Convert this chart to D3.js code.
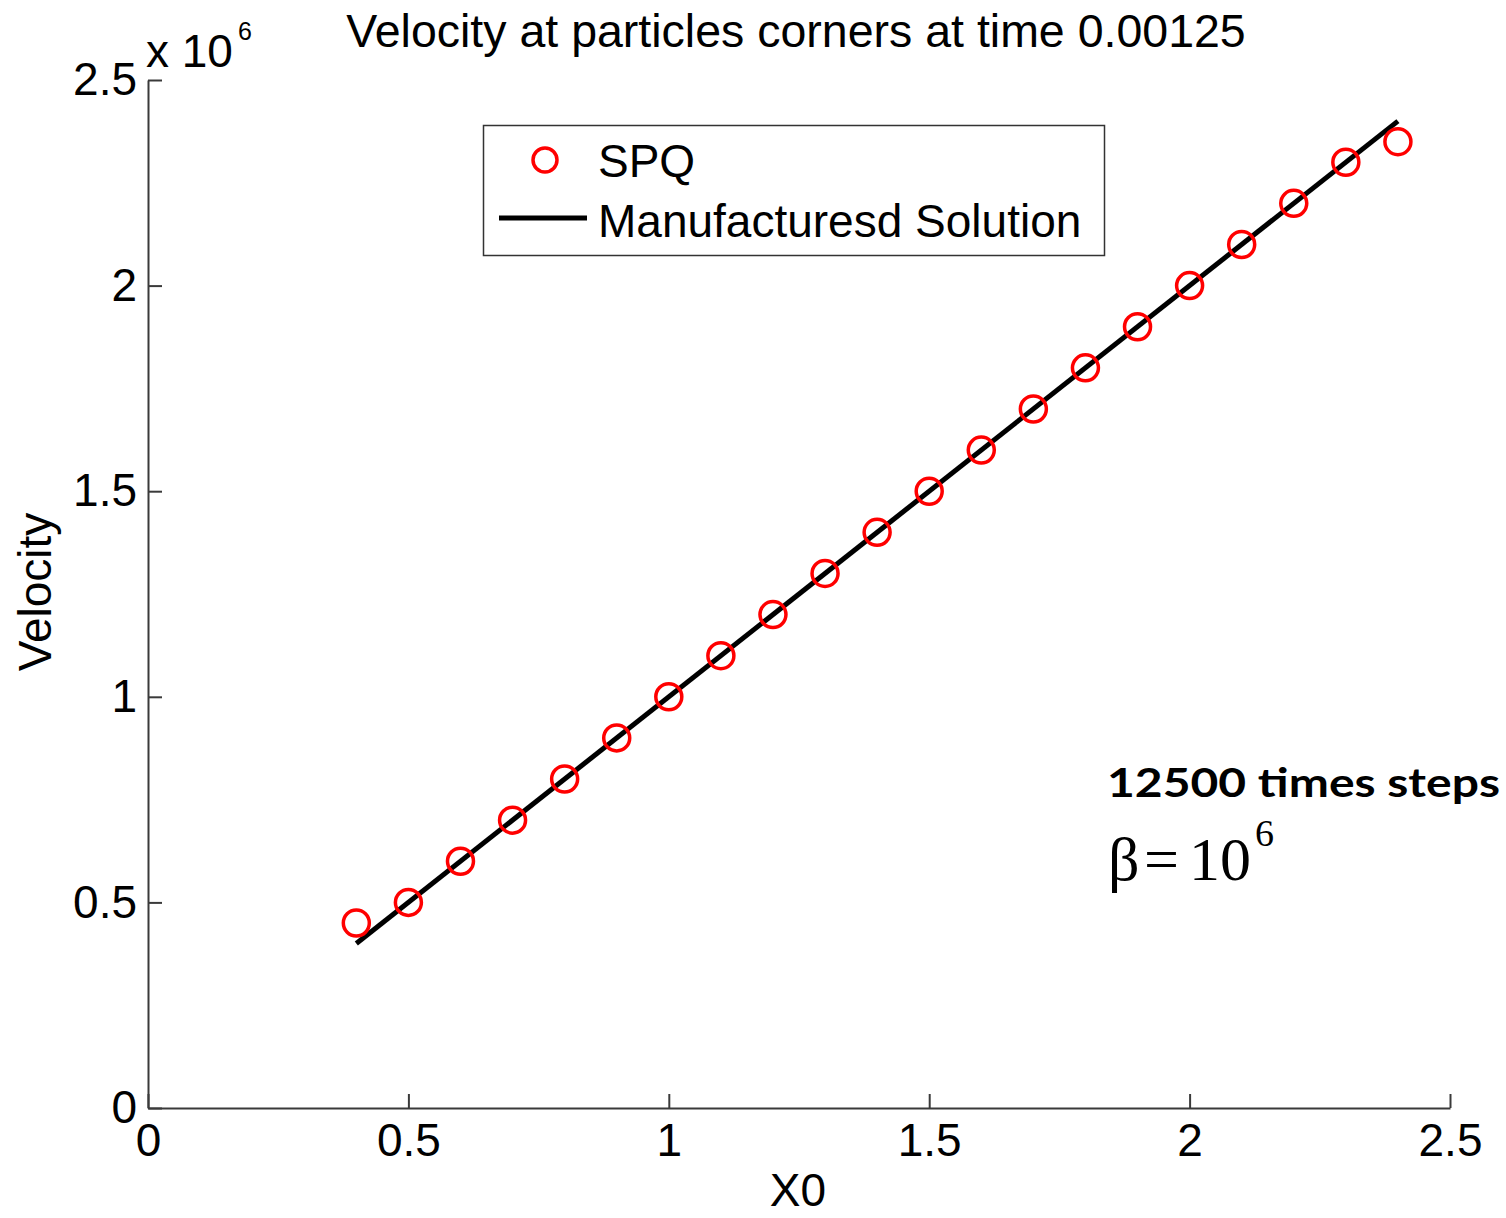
<!DOCTYPE html>
<html>
<head>
<meta charset="utf-8">
<script src="https://cdn.jsdelivr.net/npm/d3@7"></script>
<style>
  html, body { margin: 0; padding: 0; background: #fff; }
  svg { display: block; }
</style>
</head>
<body>
<svg id="chart" width="1506" height="1218"></svg>
<script>
// ---- data ----
const x0Values = [0.4, 0.5, 0.6, 0.7, 0.8, 0.9, 1.0, 1.1, 1.2, 1.3, 1.4, 1.5, 1.6, 1.7, 1.8, 1.9, 2.0, 2.1, 2.2, 2.3, 2.4];
const spqVelocity = [0.45, 0.5, 0.6, 0.7, 0.8, 0.9, 1.0, 1.1, 1.2, 1.3, 1.4, 1.5, 1.6, 1.7, 1.8, 1.9, 2.0, 2.1, 2.2, 2.3, 2.35]; // x 10^6
const manufacturedX = [0.4, 2.4];
const manufacturedVelocity = [0.4, 2.4]; // x 10^6
const xTicks = [0, 0.5, 1, 1.5, 2, 2.5];
const yTicks = [0, 0.5, 1, 1.5, 2, 2.5];
const titleText = "Velocity at particles corners at time 0.00125";
const xLabel = "X0";
const yLabel = "Velocity";
const legendLabels = ["SPQ", "Manufacturesd Solution"];
const annotation1 = "12500 times steps";

// ---- layout ----
const svg = d3.select("#chart");
const sans = "'Liberation Sans', Arial, sans-serif";
const serif = "'Liberation Serif', 'Times New Roman', serif";
svg.style("font-family", sans);
const mLeft = 148, mRight = 1450, mTop = 80, mBottom = 1108;
const x = d3.scaleLinear().domain([0, 2.5]).range([mLeft, mRight]);
const y = d3.scaleLinear().domain([0, 2.5]).range([mBottom, mTop]);
const fs = 46;
const axisColor = "#3a3a3a";

// axes
const xAxis = d3.axisBottom(x).tickValues(xTicks).tickFormat(d3.format("~g"))
  .tickSizeInner(-14).tickSizeOuter(0).tickPadding(15);
const yAxis = d3.axisLeft(y).tickValues(yTicks).tickFormat(d3.format("~g"))
  .tickSizeInner(-14).tickSizeOuter(0).tickPadding(11);

const gx = svg.append("g").attr("transform", `translate(0,${mBottom})`).call(xAxis);
const gy = svg.append("g").attr("transform", `translate(${mLeft},0)`).call(yAxis);
[gx, gy].forEach(g => {
  g.attr("font-family", null).attr("font-size", null);
  g.selectAll("path.domain").attr("stroke", axisColor).attr("stroke-width", 2);
  g.selectAll(".tick line").attr("stroke", axisColor).attr("stroke-width", 2);
  g.selectAll(".tick text").style("font-size", fs + "px")
    .style("font-family", sans).attr("fill", "#000");
});

// exponent label
svg.append("text").attr("x", 146).attr("y", 67).style("font-size", fs + "px").text("x 10");
svg.append("text").attr("x", 238).attr("y", 40).style("font-size", "25px").text("6");

// manufactured solution line
const line = d3.line().x(d => x(d[0])).y(d => y(d[1]));
svg.append("path")
  .datum(manufacturedX.map((v, i) => [v, manufacturedVelocity[i]]))
  .attr("d", line)
  .attr("fill", "none").attr("stroke", "#000").attr("stroke-width", 5);

// SPQ circles
svg.append("g").selectAll("circle")
  .data(x0Values.map((v, i) => [v, spqVelocity[i]]))
  .join("circle")
  .attr("cx", d => x(d[0])).attr("cy", d => y(d[1]))
  .attr("r", 13).attr("fill", "none").attr("stroke", "#f00").attr("stroke-width", 3.5);

// title
svg.append("text").attr("x", 796).attr("y", 47).attr("text-anchor", "middle")
  .style("font-size", "46.5px").text(titleText);

// axis labels
svg.append("text").attr("x", 798).attr("y", 1206).attr("text-anchor", "middle")
  .style("font-size", fs + "px").text(xLabel);
svg.append("text").attr("transform", "translate(51,592) rotate(-90)")
  .attr("text-anchor", "middle").style("font-size", fs + "px").text(yLabel);

// legend
const lg = svg.append("g");
lg.append("rect").attr("x", 483.5).attr("y", 125.5).attr("width", 621).attr("height", 130)
  .attr("fill", "#fff").attr("stroke", "#333").attr("stroke-width", 1.5);
lg.append("circle").attr("cx", 545).attr("cy", 160).attr("r", 12)
  .attr("fill", "none").attr("stroke", "#f00").attr("stroke-width", 3.5);
lg.append("text").attr("x", 598).attr("y", 177).style("font-size", fs + "px").text(legendLabels[0]);
lg.append("line").attr("x1", 499).attr("x2", 587).attr("y1", 218).attr("y2", 218)
  .attr("stroke", "#000").attr("stroke-width", 5);
lg.append("text").attr("x", 598).attr("y", 237).style("font-size", fs + "px").text(legendLabels[1]);

// annotations
svg.append("text").attr("x", 1107).attr("y", 797)
  .style("font-family", "Lato, 'Open Sans', sans-serif").style("font-weight", "bold")
  .style("font-size", "41px").attr("textLength", 393).attr("lengthAdjust", "spacingAndGlyphs")
  .text(annotation1);
svg.append("text").attr("x", 1108).attr("y", 880).style("font-family", serif).style("font-size", "62px").text("β");
svg.append("text").attr("x", 1144).attr("y", 880).style("font-family", serif).style("font-size", "62px").text("=");
svg.append("text").attr("x", 1189).attr("y", 880).style("font-family", serif).style("font-size", "62px").text("10");
svg.append("text").attr("x", 1255).attr("y", 846).style("font-family", serif).style("font-size", "38px").text("6");
</script>
</body>
</html>
